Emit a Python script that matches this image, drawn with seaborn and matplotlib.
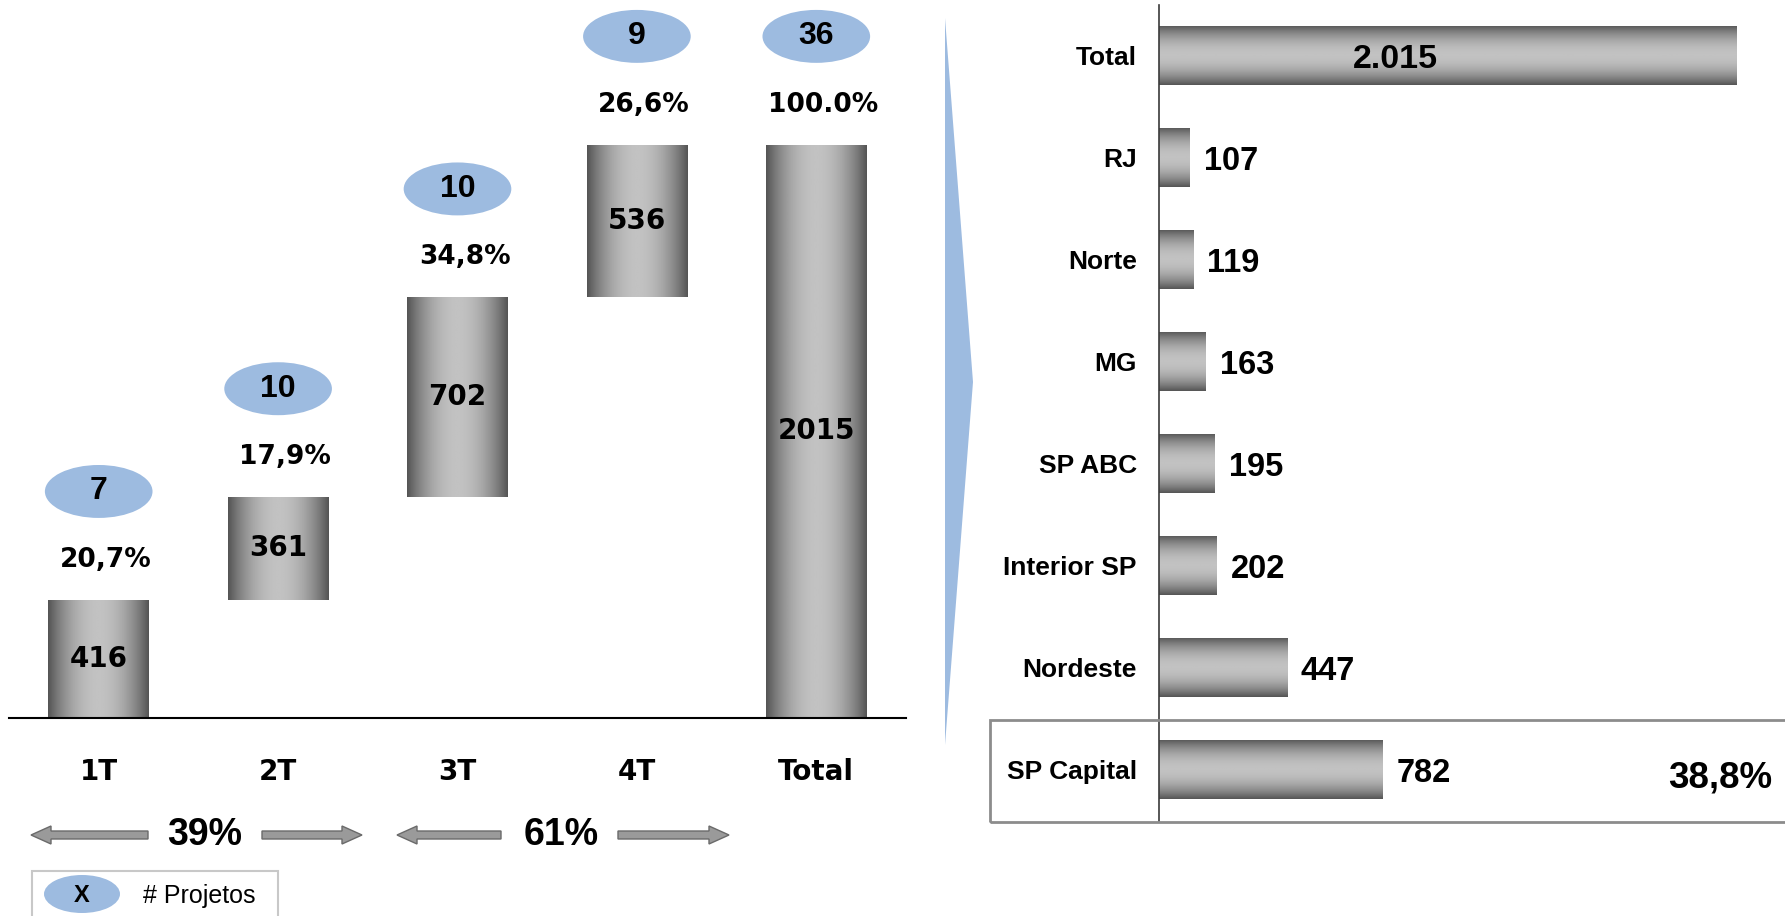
import numpy as np
import matplotlib
matplotlib.use('Agg')
import matplotlib.pyplot as plt
import seaborn as sns
from matplotlib.patches import Ellipse, Polygon, Rectangle, FancyArrow
from matplotlib.transforms import IdentityTransform

# ---------------- data ----------------
quarters = ['1T', '2T', '3T', '4T', 'Total']
quarter_values = [416, 361, 702, 536, 2015]
quarter_pct = ['20,7%', '17,9%', '34,8%', '26,6%', '100.0%']
quarter_projects = [7, 10, 10, 9, 36]
half_labels = ['39%', '61%']

regions = ['Total', 'RJ', 'Norte', 'MG', 'SP ABC', 'Interior SP', 'Nordeste', 'SP Capital']
region_values = [2015, 107, 119, 163, 195, 202, 447, 782]
region_labels = ['2.015', '107', '119', '163', '195', '202', '447', '782']
highlight_share = '38,8%'

W, H = 1785, 916
BLUE = '#9dbbe0'

sns.set_style('white')
plt.rcParams['font.family'] = ['Liberation Sans', 'DejaVu Sans']
plt.rcParams['text.color'] = 'black'
plt.rcParams['xtick.color'] = 'black'
plt.rcParams['ytick.color'] = 'black'

fig = plt.figure(figsize=(W / 100, H / 100), dpi=100)


def px_box(left, top, right, bottom):
    # axes rectangle from pixel edges (origin top-left)
    return [left / W, 1 - bottom / H, (right - left) / W, (bottom - top) / H]


def disp(x, y):
    return x, H - y


# metallic shading used for the bars
t = np.linspace(-1, 1, 256)
shade = 0.33 + 0.43 * (1 - t ** 2)


def metal(ax, patch, along_x):
    x0, y0 = patch.get_x(), patch.get_y()
    w, h = patch.get_width(), patch.get_height()
    img = shade[np.newaxis, :] if along_x else shade[:, np.newaxis]
    im = ax.imshow(img, cmap='gray', vmin=0, vmax=1, extent=(x0, x0 + w, y0, y0 + h),
                   aspect='auto', origin='lower', interpolation='bilinear',
                   zorder=patch.get_zorder() + 0.1)
    im.set_clip_path(patch)


##################################################
############## left: waterfall ###################
##################################################
axL = fig.add_axes(px_box(9, 0, 906, 718))
bottoms = list(np.cumsum([0] + quarter_values[:3])) + [0]

sns.barplot(x=quarters, y=quarter_values, ax=axL, width=0.56, color='#8a8a8a',
            saturation=1, linewidth=0)
for patch, b in zip(axL.patches, bottoms):
    patch.set_y(b)
    metal(axL, patch, along_x=True)

for i, (v, b, p, n) in enumerate(zip(quarter_values, bottoms, quarter_pct, quarter_projects)):
    top = b + v
    axL.text(i, b + v / 2, str(v), ha='center', va='center', fontsize=20,
             fontweight='bold', family='DejaVu Sans', zorder=5)
    axL.text(i + 0.04, top + 140, p, ha='center', va='center', fontsize=19,
             fontweight='bold', family='DejaVu Sans')
    axL.add_patch(Ellipse((i, top + 380), 0.6, 186, color=BLUE, lw=0, clip_on=False))
    axL.text(i, top + 380, str(n), ha='center', va='center', fontsize=23, fontweight='bold')

axL.set_xlim(-0.5, 4.5)
axL.set_ylim(0, 718 / 0.2846)
axL.set_xlabel('')
axL.set_ylabel('')
axL.set_yticks([])
axL.tick_params(axis='x', length=0, pad=29, labelsize=20)
for lbl in axL.get_xticklabels():
    lbl.set_fontweight('bold')
    lbl.set_family('DejaVu Sans')
for s in ['top', 'right', 'left']:
    axL.spines[s].set_visible(False)
axL.spines['bottom'].set_color('black')
axL.spines['bottom'].set_linewidth(1.5)

# half-year arrows
def arrow(x_tail, x_tip, y):
    xt, yt = disp(x_tail, y)
    fig.add_artist(FancyArrow(xt, yt, x_tip - x_tail, 0, width=8, head_width=18,
                              head_length=20, length_includes_head=True,
                              fc='#9a9a9a', ec='#6a6a6a', lw=1,
                              transform=IdentityTransform()))

for lab, xc, (l_tail, l_tip), (r_tail, r_tip) in zip(
        half_labels, [205, 561], [(148, 31), (501, 397)], [(262, 362), (618, 729)]):
    arrow(l_tail, l_tip, 835)
    arrow(r_tail, r_tip, 835)
    fig.text(xc / W, 1 - 835 / H, lab, ha='center', va='center', fontsize=27,
             fontweight='bold')

# legend box
lx, ly = disp(32, 925)
fig.add_artist(Rectangle((lx, ly), 246, 54, fc='none', ec='#c8c8c8', lw=1.5,
                         transform=IdentityTransform()))
ex, ey = disp(82, 894)
fig.add_artist(Ellipse((ex, ey), 76, 38, color=BLUE, lw=0, transform=IdentityTransform()))
fig.text(82 / W, 1 - 895 / H, 'X', ha='center', va='center', fontsize=17, fontweight='bold')
fig.text(143 / W, 1 - 896 / H, '# Projetos', ha='left', va='center', fontsize=18)

# blue wedge between the two panels
fig.add_artist(Polygon([disp(945, 18), disp(973, 382), disp(945, 745)], closed=True,
                       color=BLUE, lw=0, transform=IdentityTransform()))

##################################################
############## right: regions ####################
##################################################
axR = fig.add_axes(px_box(1159, 4.8, 1785, 820.6))
sns.barplot(x=region_values, y=regions, orient='h', ax=axR, width=0.58, color='#8a8a8a',
            saturation=1, linewidth=0)
for patch in axR.patches:
    metal(axR, patch, along_x=False)

for i, (v, lab) in enumerate(zip(region_values, region_labels)):
    if v == max(region_values):
        axR.text(v * 0.41, i, lab, ha='center', va='center_baseline', fontsize=24.5,
                 fontweight='bold', zorder=5)
    else:
        axR.annotate(lab, (v, i), xytext=(10, 0), textcoords='offset points',
                     ha='left', va='center_baseline', fontsize=23.5, fontweight='bold')

axR.text(1959, 7.04, highlight_share, ha='center', va='center_baseline', fontsize=26.5,
         fontweight='bold')

axR.set_xlim(0, 626 / 0.2864)
axR.set_ylim(7.5, -0.5)
axR.set_xlabel('')
axR.set_ylabel('')
axR.set_xticks([])
axR.tick_params(axis='y', length=0, pad=16, labelsize=19)
for lbl in axR.get_yticklabels():
    lbl.set_fontweight('bold')
for s in ['top', 'right', 'bottom']:
    axR.spines[s].set_visible(False)
axR.spines['left'].set_color('#3a3a3a')
axR.spines['left'].set_linewidth(1.2)

# highlight box around SP Capital
bx, by = disp(990, 822)
fig.add_artist(Rectangle((bx, by), 820, 102.5, fc='none', ec='#8c8c8c', lw=2,
                         transform=IdentityTransform()))

fig.savefig('out.png', dpi=100)
